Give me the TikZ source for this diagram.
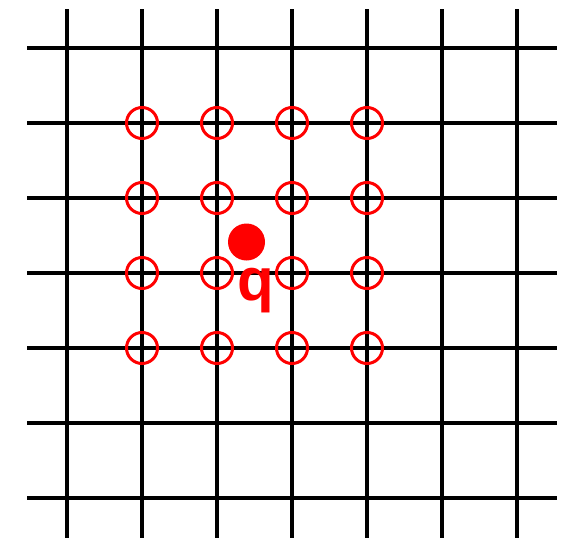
\documentclass[tikz,border=0pt]{standalone}
\usepackage{fontspec}
\setmainfont{Liberation Sans}
\usetikzlibrary{positioning}
\definecolor{ptred}{HTML}{FF0000}
\tikzset{
    gridline/.style={draw=black,line width=4pt},
    sample/.style={circle,draw=ptred,line width=3pt,minimum size=31pt,inner sep=0pt},
    query/.style={circle,fill=ptred,minimum size=37pt,inner sep=0pt},
    qlabel/.style={text=ptred,font=\fontsize{60}{60}\selectfont\bfseries,inner sep=0pt}
}
\begin{document}
\begin{tikzpicture}[x=1pt,y=-1pt]
\useasboundingbox (0,0) rectangle (578,538);
% grid
\foreach \i in {0,...,6} {
    \draw[gridline] (67+75*\i,9) -- (67+75*\i,538);
    \draw[gridline] (27,48+75*\i) -- (557,48+75*\i);
}
% neighbouring samples
\foreach \i in {1,...,4} {
    \foreach \j in {1,...,4} {
        \node[sample] (s\i\j) at (67+75*\i,48+75*\j) {};
    }
}
% query point
\node[query] (p) at (246.5,242) {};
\node[qlabel,anchor=north] (q) at (256,268) {q};
\end{tikzpicture}
\end{document}
